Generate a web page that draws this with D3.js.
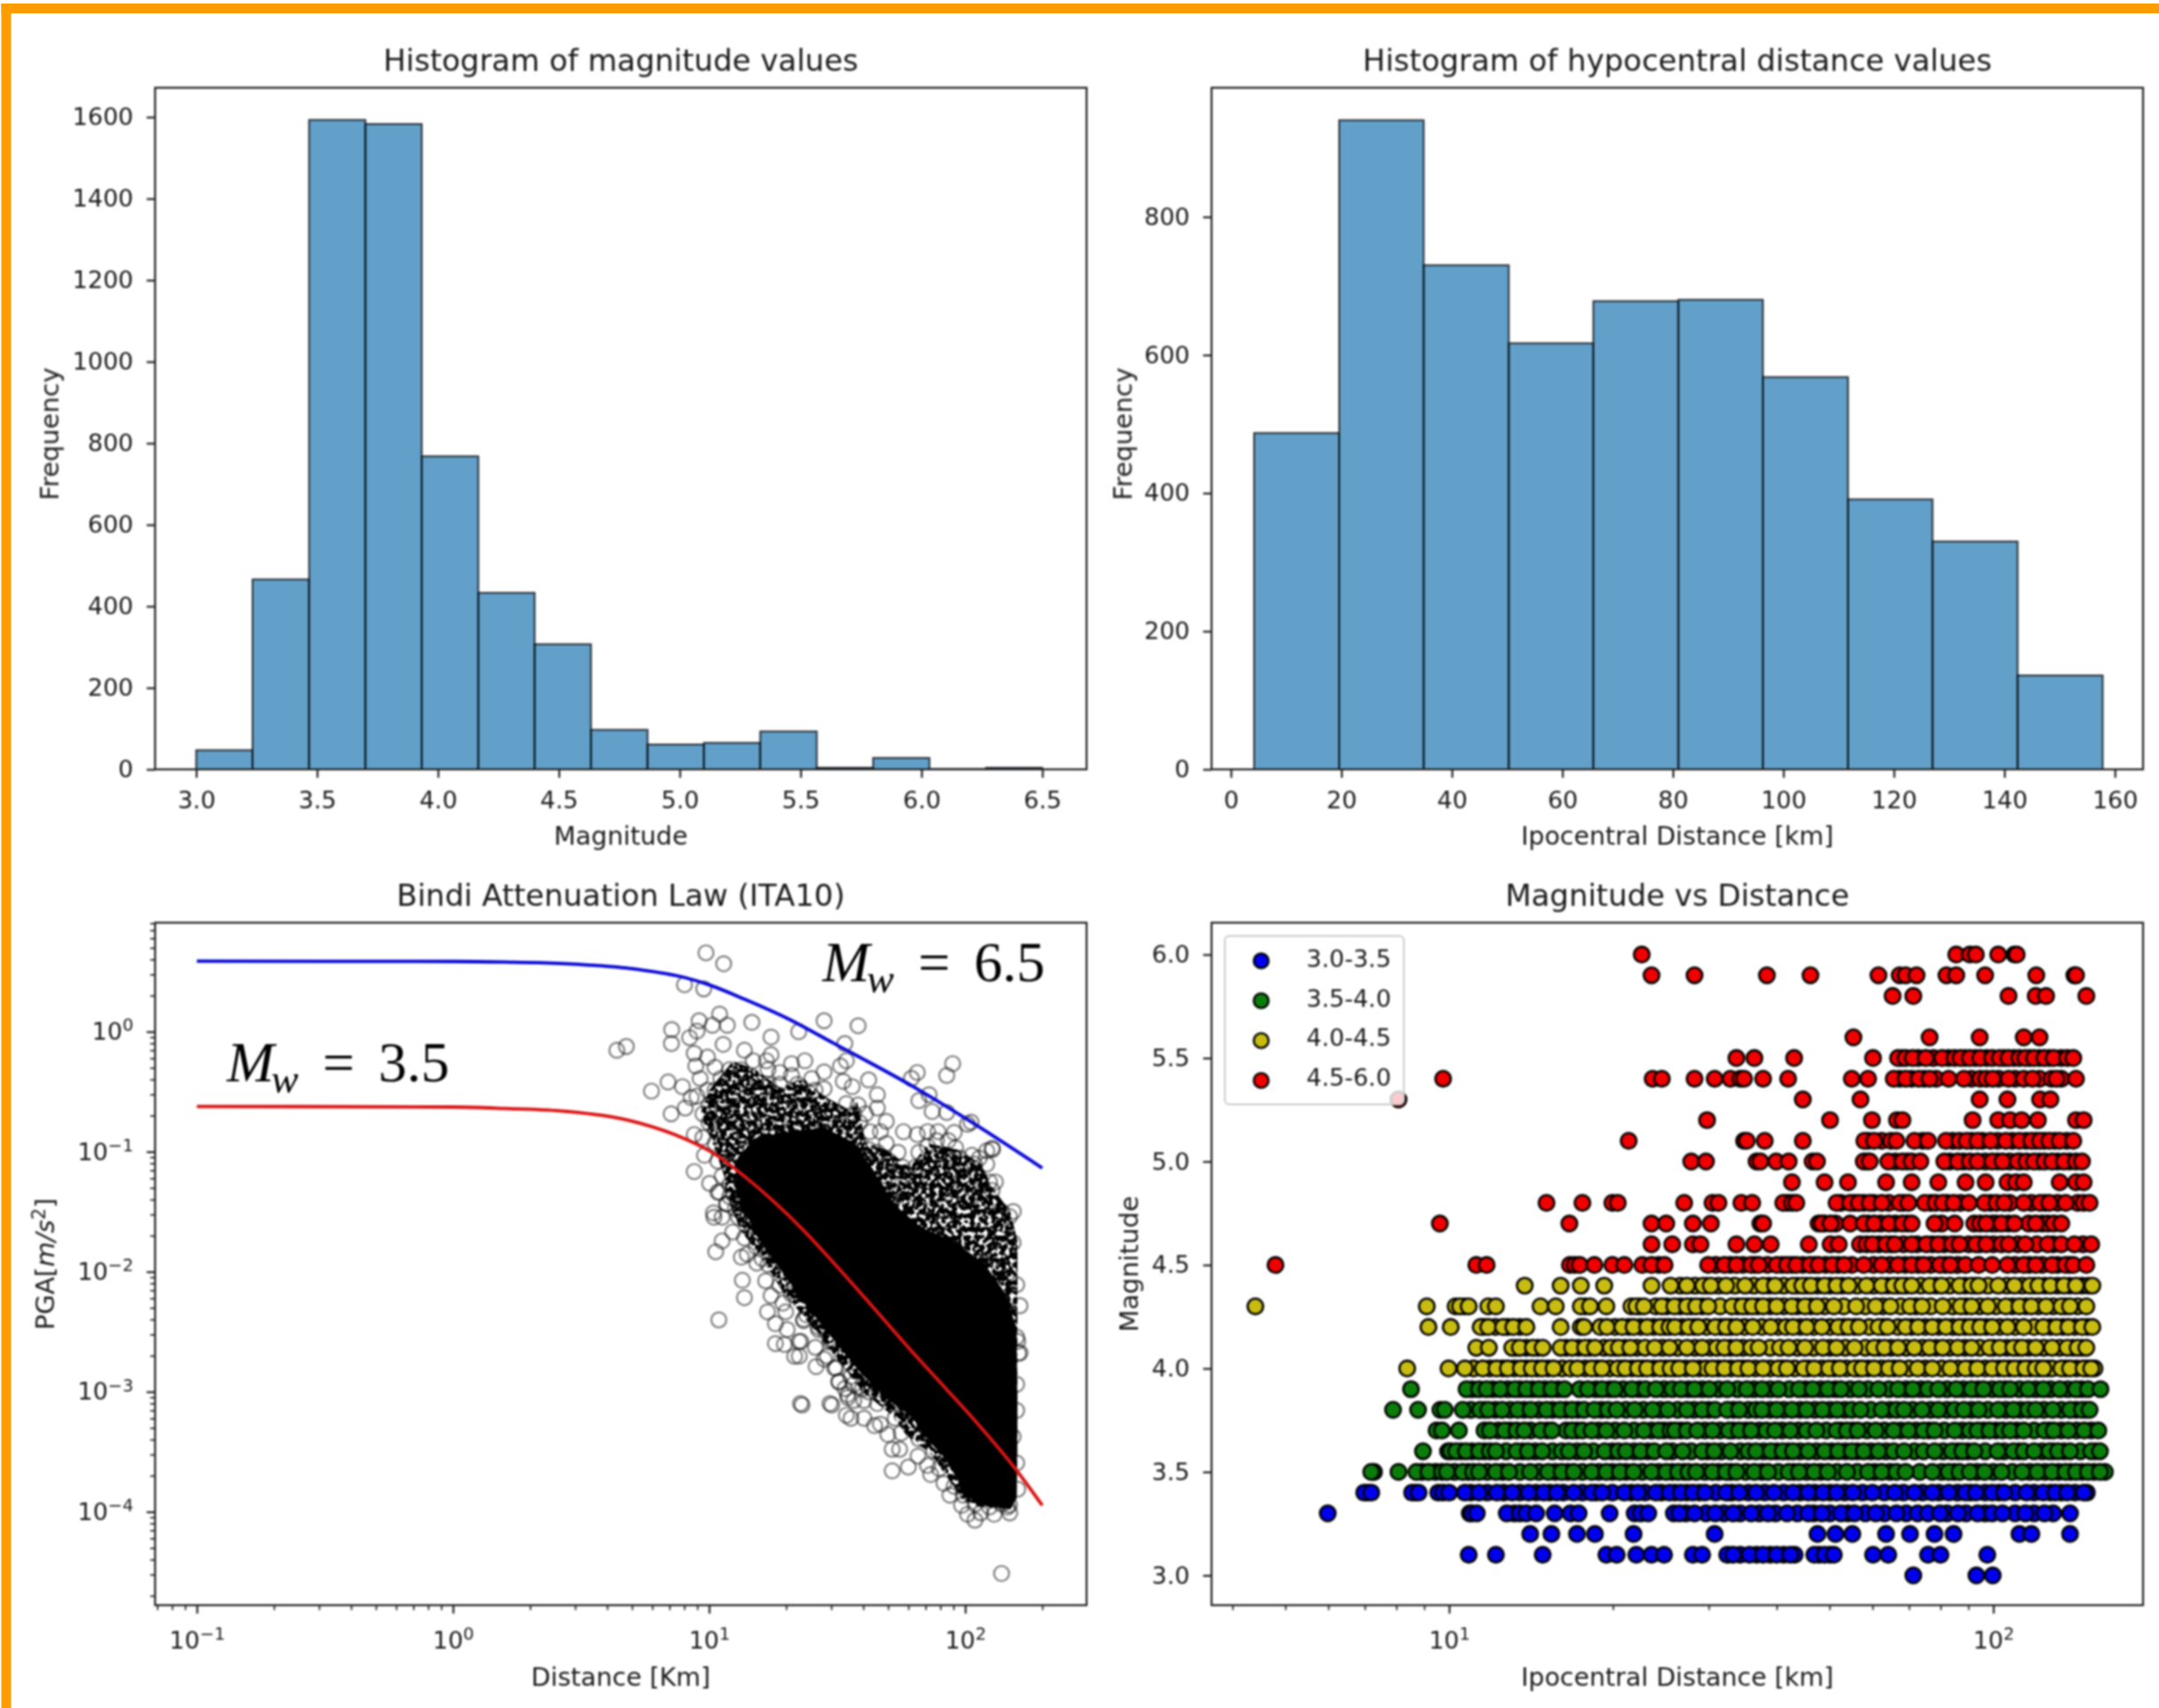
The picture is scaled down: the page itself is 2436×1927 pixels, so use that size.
<!DOCTYPE html>
<html>
<head>
<meta charset="utf-8">
<script src="https://cdn.jsdelivr.net/npm/d3@7"></script>
<style>
	html, body { margin: 0; padding: 0; background: #fff; }
	svg { display: block; }
	text { font-family: "DejaVu Sans", sans-serif; fill: #1a1a1a; }
	.plot { filter: blur(0.8px); }
</style>
</head>
<body>
<script>
// ---- histogram of magnitudes ----
var magEdges = [3.0, 3.233, 3.467, 3.7, 3.933, 4.167, 4.4, 4.633, 4.867, 5.1, 5.333, 5.567, 5.8, 6.033, 6.267, 6.5];
var magCounts = [47, 466, 1593, 1583, 768, 433, 307, 97, 61, 65, 93, 4, 28, 1, 4];
var magTicks = [3.0, 3.5, 4.0, 4.5, 5.0, 5.5, 6.0, 6.5];
var magFreqTicks = [0, 200, 400, 600, 800, 1000, 1200, 1400, 1600];

// ---- histogram of distances ----
var distEdges = [4.2, 19.6, 34.9, 50.3, 65.6, 81, 96.3, 111.7, 127, 142.4, 157.8];
var distCounts = [487, 940, 730, 617, 678, 680, 568, 391, 330, 136];
var distTicks = [0, 20, 40, 60, 80, 100, 120, 140, 160];
var distFreqTicks = [0, 200, 400, 600, 800];

// ---- attenuation curves, [log10 distance km, log10 PGA] ----
var curveM65 = [[-1,.587],[0,.585],[.2,.58],[.446,.566],[.677,.53],[.907,.45],[1.0,.39],[1.138,.271],[1.311,.105],[1.484,-.094],[1.807,-.47],[2.038,-.771],[2.301,-1.136]];
var curveM35 = [[-1,-.623],[0,-.628],[.2,-.64],[.446,-.665],[.677,-.734],[.907,-.894],[1.023,-1.02],[1.138,-1.205],[1.25,-1.41],[1.369,-1.655],[1.484,-1.92],[1.622,-2.25],[1.807,-2.70],[1.923,-2.97],[2.038,-3.24],[2.199,-3.65],[2.301,-3.947]];

// Records the eye can pick out, [log10 distance km, log10 PGA]
var pgaPoints = [
	[.988,.657],[1.057,.566],[.904,.391],[.979,.357],[1.041,.147],[.961,.091],[1.013,.054],[1.071,.054],[1.167,.078],[1.449,.091],
	[1.350,0],[.854,.017],[.853,-.099],[.953,.005],[.924,-.050],[1.242,-.045],[.640,-.155],[.677,-.123],[1.055,-.106],[.942,-.180],
	[1.138,-.155],[1.242,-.192],[.994,-.212],[.948,-.286],[1.023,-.296],[1.224,-.242],[1.530,-.099],[1.322,-.266],[1.374,-.242],[1.513,-.286],
	[1.449,-.335],[1.322,-.365],[1.524,-.414],[.840,-.419],[.896,-.458],[.775,-.495],[.994,-.488],[.965,-.390],[.930,-.550],[.907,-.636],
	[.852,-.685],[1.536,-.599],[1.449,-.476],[1.438,-.599],[1.401,-.390],[1.368,-.537],[.942,-.857],[.982,-1.030],[.942,-1.165],[1.002,-1.264],
	[1.040,-1.338],[1.069,-1.436],[1.017,-1.510],[1.103,-1.473],[.976,-.685],[1.000,-.611],[1.046,-.586],[1.092,-.513],[1.138,-.439],[1.184,-.414],
	[1.230,-.439],[1.080,-.685],[1.138,-.636],[1.195,-.636],[1.253,-.562],[1.299,-.636],[1.345,-.611],[1.391,-.636],[1.438,-.734],[1.484,-.685],
	[1.530,-.784],[1.368,-.734],[1.276,-.759],[1.230,-.759],[1.184,-.833],[1.138,-.882],[1.092,-.833],[1.046,-.784],[1.000,-.759],[.976,-.882],
	[1.023,-.931],[1.069,-.981],[1.115,-1.030],[1.161,-.981],[1.207,-.931],[1.253,-.882],[1.299,-.833],[1.345,-.808],[1.391,-.833],[1.438,-.857],
	[1.484,-.833],[1.080,-.316],[1.126,-.316],[1.172,-.242],[1.046,-.390],[1.092,-.390],[1.149,-.537],[1.195,-.513],[1.230,-.316],[1.276,-.439],
	[1.023,-.488],[.953,-.537],[1.057,-.685],[1.034,-1.079],[1.051,-1.202],[1.080,-1.276],[1.126,-1.375],[1.161,-1.301],[1.195,-1.202],[1.138,-1.178],
	[1.103,-1.128],[1.184,-1.079],[1.276,-.340],[1.345,-.439],[1.414,-.488],
	[1.582,.049],[1.536,-.242],[1.813,-.340],[1.790,-.389],[1.951,-.266],[1.928,-.365],[1.559,-.458],[1.623,-.402],[1.657,-.525],[1.819,-.574],
	[1.859,-.525],[1.871,-.665],[1.928,-.673],[2.009,-.771],[1.692,-.747],[1.759,-.833],[1.628,-.833],[1.669,-.833],[1.813,-.857],[1.853,-.833],
	[1.894,-.833],[1.957,-.840],[2.107,-.981],[2.084,-.993],[1.963,-.968],[1.819,-1.005],[2.026,-1.030],[1.657,-.636],[1.582,-.611],[2.084,-1.104],
	[2.118,-1.252],[2.095,-1.252],[2.038,-1.178],[1.755,-1.128],[1.946,-1.079],[1.853,-1.128],[1.911,-1.128],[1.992,-1.202],[1.899,-1.350],[1.796,-1.252],
	[1.830,-1.202],[2.072,-1.325],[2.142,-1.498],[2.188,-1.498],[2.101,-1.424],[1.980,-1.325],[2.026,-1.375],[1.923,-1.252],[1.865,-1.252],[1.750,-1.325],
	[1.784,-1.424],[1.657,-1.005],[1.703,-1.079],[1.611,-1.054],[1.623,-.981],[1.692,-1.202],[1.646,-1.128],[2.038,-1.325],[2.003,-1.104],[1.888,-1.030],
	[1.969,-1.153],[2.055,-1.054],[1.842,-1.325],[1.946,-1.375],[2.061,-1.448],[1.588,-.759],[1.565,-.685],[1.611,-.685],[1.692,-.931],[1.588,-.931],
	[1.738,-1.005],[1.738,-1.178],[1.807,-1.128],[1.888,-.907],[1.934,-.907],[1.923,-1.030],[1.980,-1.054],[1.853,-.956],
	[1.019,-1.546],[1.051,-1.546],[1.069,-1.435],[1.051,-1.743],[1.026,-1.834],[1.126,-1.879],[1.186,-1.928],[1.149,-1.854],[1.130,-2.071],[1.221,-2.076],
	[1.138,-2.216],[1.242,-2.199],[1.228,-2.334],[1.038,-2.401],[1.259,-2.433],[1.305,-2.482],[1.369,-2.396],[1.259,-2.598],[1.294,-2.605],[1.334,-2.704],
	[1.351,-2.581],[1.418,-2.790],[1.415,-2.630],[1.507,-2.913],[1.357,-3.098],[1.472,-3.098],[1.541,-3.024],[1.599,-2.975],[1.461,-2.704],[1.490,-2.802],
	[1.553,-2.876],[1.299,-2.334],[1.288,-2.261],[1.092,-1.669],[1.115,-1.546],[1.138,-1.719],[1.184,-1.793],[1.207,-1.891],[1.230,-1.940],[1.276,-2.113],
	[1.322,-2.187],[1.380,-2.359],[1.426,-2.458],[1.472,-2.556],[1.530,-2.704],[1.576,-2.827],[1.034,-1.337],[1.080,-1.374],[1.115,-1.423],[1.161,-1.571],
	[1.196,-1.669],[1.138,-1.448],[1.184,-1.472],
	[2.205,-2.580],[2.208,-2.679],[1.363,-3.110],[1.479,-3.110],[1.358,-2.580],[1.352,-2.703],[1.715,-3.659],[1.778,-3.627],[1.816,-3.536],[1.744,-3.479],
	[1.715,-3.479],[1.698,-3.356],[1.646,-3.282],[1.554,-3.221],[1.536,-3.196],[1.605,-3.221],[1.669,-3.270],[1.726,-3.221],[1.750,-3.344],[1.507,-2.920],
	[1.565,-2.937],[1.542,-3.048],[1.565,-3.073],[1.605,-3.073],[1.657,-3.098],[1.715,-3.073],[1.853,-3.615],[1.865,-3.689],[1.917,-3.763],[1.940,-3.861],
	[1.986,-3.947],[2.009,-4.021],[2.038,-4.070],[2.061,-4.009],[2.113,-4.021],[2.174,-4.009],[2.205,-3.812],[2.165,-3.960],[1.450,-2.728],[1.496,-2.802],
	[1.530,-2.974],[1.623,-2.999],[1.680,-3.048],[1.761,-3.171],[1.784,-3.270],[1.819,-3.393],[1.877,-3.492],[1.899,-3.639],[1.957,-3.787],[1.992,-3.861],
	[2.038,-3.935],[2.095,-3.960],[2.142,-3.935],[1.369,-2.408],[1.427,-2.482],[1.473,-2.580],[2.142,-4.514],
	[2.173,-1.540],[2.132,-1.497],[2.187,-1.758],[2.146,-1.671],[2.201,-2.108],[2.214,-2.283],[2.201,-2.545],[2.214,-2.676],[2.201,-2.938],[2.201,-3.156],
	[2.187,-3.374],[2.201,-3.593],[2.173,-3.942],[2.064,-1.278],[2.036,-1.104],[2.105,-.972],[2.023,-.754],[2.105,-1.322],[2.119,-1.846],[2.146,-1.977]
];

// The reference's rings pile up too thickly to tell apart in the middle of the cloud.
// These two outlines are read off the picture instead of single records:
// the thick band around the cloud and its solid black core.
var pgaDenseBand = [
	[.965,-.687],[1.000,-.487],[1.093,-.244],[1.183,-.318],[1.277,-.465],[1.370,-.391],[1.450,-.539],[1.554,-.657],[1.578,-.583],[1.612,-.931],
	[1.692,-.982],[1.785,-1.130],[1.855,-.931],[1.969,-.982],[2.062,-1.100],[2.107,-1.300],[2.176,-1.499],[2.204,-1.743],[2.204,-3.220],[2.201,-3.885],
	[2.176,-3.981],[2.055,-3.959],[1.993,-3.907],[1.945,-3.759],[1.865,-3.516],[1.772,-3.368],[1.716,-3.198],[1.599,-2.999],[1.484,-2.681],[1.391,-2.430],
	[1.287,-2.164],[1.208,-1.891],[1.128,-1.669],[1.069,-1.396],[1.059,-1.204],[1.024,-.982]
];
var pgaDenseCore = [
	[1.104,-1.078],[1.173,-.894],[1.277,-.842],[1.450,-.798],[1.571,-.931],[1.640,-1.152],[1.727,-1.448],[1.830,-1.632],[1.952,-1.743],[2.073,-1.928],
	[2.159,-2.186],[2.201,-2.482],[2.204,-3.220],[2.201,-3.885],[2.176,-3.981],[2.055,-3.936],[1.986,-3.826],[1.952,-3.626],[1.865,-3.427],[1.789,-3.205],
	[1.692,-3.058],[1.588,-2.836],[1.495,-2.592],[1.398,-2.334],[1.277,-1.979],[1.197,-1.743],[1.131,-1.462],[1.104,-1.300]
];

// ---- magnitude vs distance, log10 distance km on each magnitude row ----
// "behind" holds the discs only seen as arcs under the ones in front
var scatterLabels = ['3.0-3.5', '3.5-4.0', '4.0-4.5', '4.5-6.0'];
var scatterColors = ['#0000ee', '#0a7d0a', '#c8bc10', '#f00000'];
var blueRows = [
	{mag: 3.0, logDist: [1.853,1.969,1.999]},
	{mag: 3.1, logDist: [1.036,1.086,1.172,1.289,1.308,1.344,1.372,1.395,1.448,1.465,1.511,1.522,1.552,1.577,1.602,1.627,1.671,1.690,1.707,1.779,1.807,1.880,1.903,1.989],
		behind: [1.535,1.565,1.59,1.615,1.635,1.68,1.70]},
	{mag: 3.2, logDist: [1.149,1.188,1.235,1.268,1.339,1.488,1.677,1.710,1.741,1.803,1.847,1.892,1.927,2.048,2.070,2.141]},
	{mag: 3.3, logDist: [.777,1.042,1.051,1.106,1.130,1.142,1.160,1.194,1.223,1.238,1.295,1.341,1.352,1.366,1.413,1.423,1.451,1.489,1.522,1.555,1.586,1.621,1.660,1.685,1.720,1.745,1.784,1.822,1.861,1.880,1.902,1.935,1.971,1.998,2.017,2.059,2.094,2.141],
		behind: [1.038,1.12,1.435,1.472,1.505,1.535,1.57,1.60,1.64,1.67,1.70,1.733,1.765,1.80,1.84,1.915,1.95,1.985,2.04,2.075,2.11]},
	{mag: 3.4, logDist: [.844,.857,.932,.944,.989,1.000,1.029,1.055,1.088,1.116,1.146,1.174,1.198,1.229,1.262,1.281,1.322,1.347,1.380,1.405,1.426,1.448,1.470,1.509,1.533,1.564,1.597,1.632,1.660,1.687,1.712,1.742,1.778,1.819,1.855,1.888,1.918,1.949,1.968,1.998,2.020,2.061,2.092,2.114,2.136,2.166],
		behind: [.850,.938,.980,1.04,1.07,1.10,1.13,1.16,1.185,1.21,1.245,1.27,1.30,1.335,1.36,1.39,1.415,1.437,1.46,1.49,1.52,1.55,1.58,1.615,1.645,1.672,1.70,1.727,1.76,1.80,1.835,1.87,1.90,1.935,1.958,1.985,2.01,2.04,2.075,2.105,2.125,2.15,2.172]}
];
var greenRows = [
	{mag: 3.5, logDist: [.857,.907,.940,.962,.987,.996,1.025,1.044,1.055,1.086,1.110,1.149,1.182,1.207,1.229,1.262,1.289,1.314,1.339,1.372,1.399,1.421,1.440,1.454,1.484,1.509,1.528,1.561,1.586,1.624,1.643,1.671,1.696,1.731,1.770,1.795,1.822,1.839,1.888,1.918,1.938,1.957,1.984,2.015,2.053,2.081,2.108,2.133,2.152,2.174,2.196],
		behind: [.862,.95,.975,1.01,1.035,1.07,1.098,1.13,1.165,1.195,1.218,1.245,1.275,1.30,1.325,1.355,1.385,1.41,1.432,1.47,1.495,1.518,1.545,1.575,1.605,1.633,1.657,1.683,1.713,1.75,1.782,1.81,1.865,1.905,1.928,1.97,2.0,2.035,2.067,2.095,2.12,2.142,2.163,2.185,2.205]},
	{mag: 3.6, logDist: [.952,1.003,1.013,1.031,1.055,1.075,1.086,1.124,1.145,1.171,1.207,1.220,1.248,1.286,1.311,1.325,1.352,1.377,1.399,1.429,1.465,1.487,1.517,1.564,1.591,1.613,1.632,1.660,1.690,1.715,1.740,1.762,1.789,1.817,1.836,1.872,1.892,1.924,1.943,1.965,2.008,2.037,2.056,2.075,2.103,2.119,2.141,2.180,2.196],
		behind: [.998,1.022,1.042,1.065,1.105,1.135,1.158,1.19,1.235,1.265,1.30,1.34,1.365,1.41,1.445,1.475,1.50,1.535,1.55,1.578,1.602,1.623,1.645,1.675,1.703,1.728,1.75,1.775,1.803,1.855,1.908,1.935,1.953,1.985,2.02,2.047,2.09,2.11,2.13,2.16,2.188]},
	{mag: 3.7, logDist: [.977,.987,1.018,1.075,1.102,1.124,1.138,1.168,1.189,1.226,1.245,1.262,1.289,1.322,1.358,1.385,1.407,1.415,1.437,1.456,1.484,1.514,1.533,1.555,1.583,1.599,1.627,1.657,1.675,1.712,1.731,1.751,1.784,1.817,1.844,1.872,1.892,1.929,1.957,1.971,1.993,2.017,2.031,2.056,2.094,2.111,2.138,2.167,2.193],
		behind: [1.065,1.09,1.112,1.15,1.18,1.215,1.235,1.275,1.305,1.34,1.372,1.395,1.426,1.47,1.498,1.522,1.545,1.57,1.612,1.642,1.693,1.72,1.742,1.768,1.80,1.83,1.858,1.882,1.91,1.943,1.982,2.005,2.043,2.075,2.103,2.125,2.153,2.18]},
	{mag: 3.8, logDist: [.897,.943,.984,.992,1.025,1.057,1.072,1.097,1.126,1.150,1.179,1.204,1.226,1.248,1.267,1.292,1.308,1.341,1.374,1.402,1.437,1.465,1.489,1.511,1.533,1.564,1.575,1.602,1.630,1.657,1.686,1.713,1.740,1.756,1.795,1.822,1.836,1.869,1.899,1.929,1.946,1.973,2.009,2.037,2.064,2.078,2.109,2.141,2.163,2.177],
		behind: [1.04,1.065,1.085,1.112,1.138,1.165,1.19,1.215,1.237,1.28,1.325,1.357,1.388,1.42,1.45,1.477,1.523,1.55,1.59,1.615,1.645,1.672,1.70,1.727,1.775,1.81,1.852,1.885,1.915,1.96,1.99,2.023,2.05,2.093,2.125,2.152,2.17]},
	{mag: 3.9, logDist: [.930,1.032,1.055,1.069,1.094,1.121,1.142,1.165,1.188,1.212,1.255,1.281,1.304,1.336,1.361,1.380,1.410,1.426,1.451,1.478,1.511,1.547,1.575,1.605,1.643,1.668,1.696,1.720,1.753,1.789,1.825,1.852,1.880,1.899,1.932,1.960,1.982,2.012,2.031,2.064,2.092,2.122,2.152,2.174,2.197],
		behind: [1.042,1.08,1.108,1.13,1.153,1.176,1.2,1.24,1.27,1.295,1.32,1.35,1.395,1.44,1.465,1.495,1.53,1.56,1.59,1.625,1.655,1.683,1.71,1.737,1.77,1.808,1.84,1.867,1.915,1.945,1.972,1.998,2.022,2.048,2.078,2.105,2.137,2.162]}
];
var yellowRows = [
	{mag: 4.0, logDist: [.923,.999,1.029,1.062,1.087,1.108,1.132,1.152,1.171,1.192,1.223,1.236,1.262,1.281,1.310,1.324,1.347,1.364,1.388,1.407,1.423,1.448,1.484,1.506,1.531,1.550,1.577,1.605,1.621,1.652,1.671,1.698,1.718,1.745,1.759,1.781,1.808,1.828,1.861,1.888,1.921,1.949,1.971,1.998,2.020,2.039,2.059,2.078,2.092,2.125,2.141,2.166,2.180],
		behind: [1.045,1.075,1.098,1.12,1.142,1.162,1.182,1.208,1.25,1.272,1.295,1.318,1.336,1.355,1.376,1.398,1.415,1.435,1.46,1.472,1.495,1.518,1.54,1.563,1.59,1.612,1.635,1.66,1.685,1.708,1.73,1.752,1.77,1.795,1.818,1.845,1.875,1.905,1.935,1.96,1.985,2.01,2.03,2.05,2.068,2.085,2.1,2.108,2.133,2.153,2.173,2.186]},
	{mag: 4.1, logDist: [1.050,1.073,1.116,1.130,1.154,1.172,1.205,1.226,1.250,1.268,1.297,1.312,1.333,1.378,1.405,1.437,1.465,1.492,1.506,1.528,1.555,1.569,1.608,1.624,1.654,1.687,1.712,1.745,1.781,1.800,1.825,1.855,1.883,1.907,1.935,1.960,1.993,2.012,2.037,2.053,2.078,2.108,2.136,2.155,2.171],
		behind: [1.123,1.142,1.163,1.215,1.238,1.258,1.285,1.305,1.323,1.345,1.36,1.392,1.42,1.452,1.48,1.517,1.54,1.59,1.64,1.67,1.70,1.728,1.765,1.79,1.812,1.84,1.87,1.895,1.92,1.948,1.975,2.0,2.025,2.045,2.065,2.093,2.122,2.146,2.163]},
	{mag: 4.2, logDist: [.962,1.003,1.058,1.072,1.099,1.118,1.142,1.205,1.242,1.248,1.290,1.318,1.339,1.364,1.388,1.405,1.415,1.440,1.458,1.489,1.509,1.528,1.558,1.591,1.619,1.632,1.657,1.685,1.715,1.734,1.753,1.789,1.806,1.839,1.862,1.888,1.913,1.938,1.957,1.976,1.998,2.026,2.056,2.092,2.116,2.138,2.163,2.182],
		behind: [1.064,1.085,1.108,1.13,1.278,1.305,1.33,1.352,1.376,1.397,1.428,1.45,1.473,1.5,1.518,1.543,1.575,1.605,1.645,1.67,1.7,1.725,1.745,1.772,1.798,1.825,1.85,1.875,1.9,1.925,1.948,1.967,1.987,2.012,2.04,2.075,2.105,2.128,2.15,2.173]},
	{mag: 4.3, logDist: [.644,.959,1.020,1.036,1.072,1.086,1.168,1.196,1.242,1.259,1.289,1.344,1.358,1.391,1.414,1.437,1.454,1.476,1.520,1.539,1.557,1.577,1.602,1.630,1.654,1.676,1.707,1.748,1.784,1.811,1.847,1.869,1.907,1.940,1.960,1.990,2.023,2.048,2.070,2.097,2.125,2.141,2.171],
		behind: [1.012,1.028,1.25,1.335,1.35,1.38,1.4,1.425,1.445,1.465,1.498,1.53,1.548,1.567,1.59,1.615,1.64,1.665,1.69,1.725,1.765,1.797,1.83,1.858,1.885,1.925,1.95,1.975,2.005,2.035,2.06,2.083,2.11,2.133,2.155]},
	{mag: 4.4, logDist: [1.139,1.205,1.242,1.285,1.372,1.407,1.437,1.467,1.481,1.509,1.544,1.577,1.599,1.632,1.649,1.665,1.690,1.712,1.734,1.767,1.795,1.817,1.833,1.850,1.883,1.905,1.938,1.960,1.973,2.009,2.039,2.067,2.083,2.105,2.130,2.152,2.182],
		behind: [1.425,1.452,1.474,1.495,1.525,1.56,1.588,1.615,1.64,1.657,1.677,1.7,1.722,1.75,1.78,1.806,1.825,1.84,1.867,1.895,1.92,1.948,1.967,1.99,2.025,2.053,2.075,2.095,2.118,2.14,2.163,2.175]}
];
var redRows = [
	{mag: 4.5, logDist: [.681,1.050,1.069,1.231,1.240,1.267,1.300,1.322,1.355,1.372,1.396,1.476,1.506,1.528,1.555,1.569,1.602,1.621,1.638,1.663,1.679,1.704,1.726,1.762,1.795,1.825,1.850,1.872,1.902,1.921,1.949,1.973,1.998,2.026,2.056,2.078,2.108,2.133,2.147,2.171],
		behind: [1.222,1.385,1.49,1.517,1.54,1.562,1.585,1.612,1.63,1.65,1.672,1.692,1.715,1.74,1.78,1.81,1.838,1.862,1.885,1.912,1.935,2.04,2.066,2.09,2.118,2.14]},
	{mag: 4.6, logDist: [1.372,1.410,1.448,1.462,1.528,1.561,1.591,1.661,1.701,1.716,1.767,1.778,1.803,1.819,1.850,1.877,1.899,1.924,1.938,1.968,1.987,2.028,2.059,2.100,2.125,2.149,2.180],
		behind: [1.755,1.79,1.812,1.835,1.86,1.888,1.91,1.93,1.955,1.975,2.0,2.015,2.045,2.08,2.11,2.165]},
	{mag: 4.7, logDist: [.983,1.221,1.372,1.399,1.448,1.481,1.572,1.577,1.679,1.685,1.701,1.737,1.762,1.781,1.808,1.833,1.850,1.892,1.929,1.976,1.987,2.015,2.039,2.078,2.111,2.125],
		behind: [1.69,1.71,1.77,1.793,1.82,1.842,1.905,1.965,1.998,2.005,2.028,2.065,2.09,2.1]},
	{mag: 4.8, logDist: [1.179,1.245,1.300,1.310,1.432,1.484,1.495,1.537,1.557,1.614,1.630,1.638,1.712,1.737,1.753,1.773,1.795,1.828,1.844,1.874,1.894,1.907,1.927,1.955,1.984,2.006,2.020,2.056,2.086,2.103,2.133,2.166,2.177],
		behind: [1.622,1.72,1.745,1.762,1.78,1.808,1.835,1.885,1.915,1.94,1.995,2.03,2.07,2.095,2.118,2.155]},
	{mag: 4.9, logDist: [1.630,1.690,1.733,1.803,1.850,1.899,1.949,1.986,2.026,2.042,2.056,2.122,2.152,2.166]},
	{mag: 5.0, logDist: [1.445,1.472,1.565,1.572,1.601,1.624,1.668,1.676,1.762,1.773,1.807,1.833,1.850,1.866,1.910,1.935,1.957,1.971,1.998,2.017,2.045,2.061,2.075,2.094,2.108,2.130,2.152,2.163],
		behind: [1.768,1.82,1.842,1.92,1.945,1.985,2.008,2.03,2.05,2.085,2.118,2.14]},
	{mag: 5.1, logDist: [1.330,1.542,1.547,1.580,1.650,1.763,1.781,1.812,1.822,1.855,1.880,1.913,1.938,1.951,1.971,1.995,2.023,2.048,2.070,2.086,2.103,2.122,2.147],
		behind: [1.77,1.795,1.87,1.925,1.96,1.98,2.008,2.035,2.06,2.078,2.094,2.113,2.135]},
	{mag: 5.2, logDist: [1.474,1.700,1.777,1.823,1.833,1.962,2.009,2.031,2.052,2.082,2.152,2.166]},
	{mag: 5.3, logDist: [.907,1.650,1.756,1.975,2.026,2.086,2.105]},
	{mag: 5.4, logDist: [.989,1.374,1.391,1.451,1.488,1.517,1.535,1.542,1.577,1.623,1.740,1.770,1.817,1.839,1.863,1.883,1.918,1.946,1.976,1.987,1.999,2.028,2.056,2.072,2.107,2.116,2.152],
		behind: [1.828,1.85,1.873,1.895,1.96,2.01,2.04,2.085,2.125]},
	{mag: 5.5, logDist: [1.528,1.561,1.634,1.779,1.825,1.839,1.852,1.876,1.906,1.929,1.940,1.957,1.976,1.998,2.012,2.028,2.048,2.059,2.075,2.094,2.111,2.136,2.147],
		behind: [1.832,1.862,1.89,1.918,1.948,1.967,1.988,2.02,2.038,2.067,2.085,2.103,2.125]},
	{mag: 5.6, logDist: [1.743,1.883,1.975,2.056,2.085]},
	{mag: 5.8, logDist: [1.815,1.853,2.028,2.078,2.097,2.171]},
	{mag: 5.9, logDist: [1.372,1.451,1.584,1.664,1.789,1.828,1.839,1.859,1.914,1.932,1.985,2.079,2.149,2.152]},
	{mag: 6.0, logDist: [1.354,1.932,1.957,1.968,2.009,2.039,2.043]}
];
var scatterMagTicks = [3.0, 3.5, 4.0, 4.5, 5.0, 5.5, 6.0];

var pow10 = function (v) { return Math.pow(10, v); };
var minorLog = function (lo, hi) {
	var out = [];
	for (var e = lo; e <= hi; e++) {
		[2, 3, 4, 5, 6, 7, 8, 9].forEach(function (m) { out.push(m * pow10(e)); });
	}
	return out;
};

var svg = d3.select('body').append('svg').attr('width', 2436).attr('height', 1927);
svg.append('rect').attr('width', 2436).attr('height', 1927).attr('fill', '#fff');

// speckled look of the thick band, small gaps between overlapping rings
var speckle = svg.append('defs').append('filter').attr('id', 'speckle')
	.attr('filterUnits', 'userSpaceOnUse')
	.attr('x', 700).attr('y', 1100).attr('width', 500).attr('height', 650);
speckle.append('feTurbulence').attr('type', 'fractalNoise').attr('baseFrequency', 0.2)
	.attr('numOctaves', 2).attr('seed', 3).attr('result', 'noise');
speckle.append('feColorMatrix').attr('in', 'noise').attr('type', 'matrix')
	.attr('values', '0 0 0 0 0  0 0 0 0 0  0 0 0 0 0  0 0 0 -9 5.6').attr('result', 'mask');
speckle.append('feComposite').attr('in', 'SourceGraphic').attr('in2', 'mask').attr('operator', 'in');

// orange frame of the page
svg.append('rect').attr('x', 1.5).attr('y', 4).attr('width', 2434.5).attr('height', 11).attr('fill', '#ff9c00');
svg.append('rect').attr('x', 1.5).attr('y', 4).attr('width', 11).attr('height', 1923).attr('fill', '#ff9c00');

var plot = svg.append('g').attr('class', 'plot');

var col1 = {left: 175, right: 1226}, col2 = {left: 1367, right: 2418};
var row1 = {top: 99, bottom: 868, labelPad: 85, tickPad: 15, yShift: 6}, row2 = {top: 1041, bottom: 1811, labelPad: 91, tickPad: 20, yShift: 0};

/**
 * Spines, titles and axis labels for one panel
 */
function frame(g, col, row, title, xLabel) {
	g.append('rect')
		.attr('x', col.left).attr('y', row.top)
		.attr('width', col.right - col.left).attr('height', row.bottom - row.top)
		.attr('fill', 'none').attr('stroke', '#222').attr('stroke-width', 2.2);
	g.append('text')
		.attr('x', (col.left + col.right) / 2).attr('y', row.top - 19)
		.attr('text-anchor', 'middle').attr('font-size', 34).text(title);
	g.append('text')
		.attr('x', (col.left + col.right) / 2).attr('y', row.bottom + row.labelPad)
		.attr('text-anchor', 'middle').attr('font-size', 28.5).text(xLabel);
}

function yLabel(g, x, row, label) {
	return g.append('text')
		.attr('transform', 'translate(' + x + ',' + ((row.top + row.bottom) / 2 + row.yShift) + ') rotate(-90)')
		.attr('text-anchor', 'middle').attr('font-size', 29).text(label);
}

/**
 * Draw an axis through d3 and tidy it up the way matplotlib looks
 */
function drawAxis(g, axis, tx, ty) {
	var a = g.append('g').attr('transform', 'translate(' + tx + ',' + ty + ')')
		.call(axis.tickSizeOuter(0));
	a.select('.domain').remove();
	a.selectAll('.tick line').attr('stroke', '#222').attr('stroke-width', 2.2);
	a.selectAll('.tick text').attr('font-size', 27).attr('fill', '#1a1a1a');
	return a;
}

// superscript tick labels for the log axes
function powerLabels(a) {
	a.selectAll('.tick text').each(function (d) {
		var t = d3.select(this), e = Math.round(Math.log10(d));
		t.text(null);
		t.append('tspan').text('10');
		t.append('tspan').attr('dy', '-0.5em').attr('font-size', '0.72em').text(e < 0 ? '\u2212' + (-e) : e);
	});
}

function drawMinor(g, axis, tx, ty) {
	var a = drawAxis(g, axis.tickFormat('').tickSize(5.5), tx, ty);
	a.selectAll('.tick line').attr('stroke-width', 1.7);
}

function histogram(col, row, edges, counts, xDomain, yMax, xTicks, yTicks, xFmt, title, xLab, yLabX) {
	var g = plot.append('g');
	var x = d3.scaleLinear().domain(xDomain).range([col.left, col.right]);
	var y = d3.scaleLinear().domain([0, yMax]).range([row.bottom, row.top]);

	g.selectAll('.bar').data(counts).enter().append('rect')
		.attr('class', 'bar')
		.attr('x', function (d, i) { return x(edges[i]); })
		.attr('width', function (d, i) { return x(edges[i + 1]) - x(edges[i]); })
		.attr('y', function (d) { return y(d); })
		.attr('height', function (d) { return y(0) - y(d); })
		.attr('fill', '#1f77b4').attr('fill-opacity', 0.7)
		.attr('stroke', '#000').attr('stroke-opacity', 0.75).attr('stroke-width', 2);

	drawAxis(g, d3.axisBottom(x).tickValues(xTicks).tickFormat(xFmt).tickSize(9.5).tickPadding(row.tickPad), 0, row.bottom);
	drawAxis(g, d3.axisLeft(y).tickValues(yTicks).tickFormat(d3.format('d')).tickSize(9.5).tickPadding(15), col.left, 0);
	frame(g, col, row, title, xLab);
	yLabel(g, yLabX, row, 'Frequency');
}

histogram(col1, row1, magEdges, magCounts, [2.83, 6.683], 1672, magTicks, magFreqTicks, d3.format('.1f'),
	'Histogram of magnitude values', 'Magnitude', 66);
histogram(col2, row1, distEdges, distCounts, [-3.5, 165.1], 987, distTicks, distFreqTicks, d3.format('d'),
	'Histogram of hypocentral distance values', 'Ipocentral Distance [km]', 1277);

// ---- attenuation panel ----
(function () {
	var g = plot.append('g');
	var x = d3.scaleLog().domain([pow10(-1.163), pow10(2.474)]).range([col1.left, col1.right]);
	var y = d3.scaleLog().domain([pow10(-4.778), pow10(0.908)]).range([row2.bottom, row2.top]);
	var outline = d3.line()
		.x(function (d) { return x(pow10(d[0])); })
		.y(function (d) { return y(pow10(d[1])); })
		.curve(d3.curveLinearClosed);

	g.append('path').datum(pgaDenseBand).attr('d', outline).attr('fill', '#000').attr('filter', 'url(#speckle)');
	g.append('path').datum(pgaDenseCore).attr('d', outline).attr('fill', '#000');

	g.selectAll('.ring').data(pgaPoints).enter().append('circle')
		.attr('class', 'ring')
		.attr('cx', function (d) { return x(pow10(d[0])); })
		.attr('cy', function (d) { return y(pow10(d[1])); })
		.attr('r', 8.5)
		.attr('fill', 'none').attr('stroke', '#000').attr('stroke-opacity', 0.5).attr('stroke-width', 2.2);

	var line = d3.line()
		.x(function (d) { return x(pow10(d[0])); })
		.y(function (d) { return y(pow10(d[1])); })
		.curve(d3.curveMonotoneX);
	g.append('path').datum(curveM65).attr('d', line).attr('fill', 'none').attr('stroke', '#0808d8').attr('stroke-width', 3.8);
	g.append('path').datum(curveM35).attr('d', line).attr('fill', 'none').attr('stroke', '#dc1414').attr('stroke-width', 3.8);

	var xMajor = [0.1, 1, 10, 100], yMajor = [1, 0.1, 0.01, 0.001, 0.0001];
	drawMinor(g, d3.axisBottom(x).tickValues(minorLog(-2, 2).filter(function (d) { return d > pow10(-1.163) && d < pow10(2.474); })), 0, row2.bottom);
	drawMinor(g, d3.axisLeft(y).tickValues(minorLog(-5, 0).filter(function (d) { return d > pow10(-4.778) && d < pow10(0.908); })), col1.left, 0);
	powerLabels(drawAxis(g, d3.axisBottom(x).tickValues(xMajor).tickSize(9.5).tickPadding(row2.tickPad), 0, row2.bottom));
	powerLabels(drawAxis(g, d3.axisLeft(y).tickValues(yMajor).tickSize(9.5).tickPadding(15), col1.left, 0));
	frame(g, col1, row2, 'Bindi Attenuation Law (ITA10)', 'Distance [Km]');

	var yl = yLabel(g, 61, row2, 'PGA[');
	yl.append('tspan').attr('font-style', 'italic').text('m/s');
	yl.append('tspan').attr('dy', '-0.5em').attr('font-size', '0.72em').text('2');
	yl.append('tspan').attr('dy', '0.36em').text(']');

	function mw(tx, ty, value) {
		var t = g.append('text').attr('x', tx).attr('y', ty)
			.style('font-family', '"Liberation Serif", serif').attr('font-size', 64).style('fill', '#000');
		t.append('tspan').attr('font-style', 'italic').text('M');
		t.append('tspan').attr('font-style', 'italic').attr('font-size', 46).attr('dy', 13).attr('x', tx + 50).text('w');
		t.append('tspan').attr('dy', -13).attr('x', tx + 108).text('=');
		t.append('tspan').attr('x', tx + 171).text(value);
	}
	mw(928, 1107, '6.5');
	mw(256, 1220, '3.5');
})();

// ---- magnitude vs distance panel ----
(function () {
	var g = plot.append('g');
	var x = d3.scaleLog().domain([pow10(0.5635), pow10(2.2752)]).range([col2.left, col2.right]);
	var y = d3.scaleLinear().domain([2.856, 6.154]).range([row2.bottom, row2.top]);

	function discs(values, mag, color) {
		g.selectAll(null).data(values).enter().append('circle')
			.attr('cx', function (d) { return x(pow10(d)); })
			.attr('cy', y(mag))
			.attr('r', 8.8)
			.attr('fill', color)
			.attr('stroke', '#000').attr('stroke-width', 2.6);
	}

	[blueRows, greenRows, yellowRows, redRows].forEach(function (rows, k) {
		rows.forEach(function (row) {
			discs(row.behind || [], row.mag, scatterColors[k]);
			discs(row.logDist, row.mag, scatterColors[k]);
		});
	});

	drawMinor(g, d3.axisBottom(x).tickValues(minorLog(0, 2).filter(function (d) { return d > pow10(0.5635) && d < pow10(2.2752); })), 0, row2.bottom);
	powerLabels(drawAxis(g, d3.axisBottom(x).tickValues([10, 100]).tickSize(9.5).tickPadding(row2.tickPad), 0, row2.bottom));
	drawAxis(g, d3.axisLeft(y).tickValues(scatterMagTicks).tickFormat(d3.format('.1f')).tickSize(9.5).tickPadding(15), col2.left, 0);
	frame(g, col2, row2, 'Magnitude vs Distance', 'Ipocentral Distance [km]');
	yLabel(g, 1284, row2, 'Magnitude');

	// legend on top of the points, semi transparent like matplotlib's
	var lg = g.append('g').attr('transform', 'translate(1382,1056)');
	lg.append('rect').attr('width', 202).attr('height', 190).attr('rx', 5)
		.attr('fill', '#fff').attr('fill-opacity', 0.8).attr('stroke', '#ccc').attr('stroke-width', 2);
	scatterLabels.forEach(function (label, i) {
		lg.append('circle').attr('cx', 41).attr('cy', 28 + i * 45).attr('r', 8.4)
			.attr('fill', scatterColors[i]).attr('stroke', '#000').attr('stroke-width', 2.4);
		lg.append('text').attr('x', 92).attr('y', 35 + i * 44.7).attr('font-size', 27).text(label);
	});
})();
</script>
</body>
</html>
